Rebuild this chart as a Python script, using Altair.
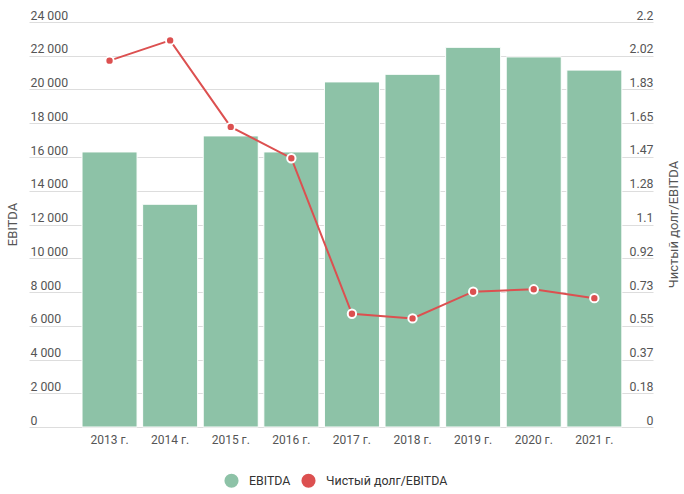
import altair as alt
import pandas as pd

years = ["2013 г.", "2014 г.", "2015 г.", "2016 г.", "2017 г.", "2018 г.", "2019 г.", "2020 г.", "2021 г."]
ebitda = [16300, 13200, 17250, 16300, 20450, 20900, 22500, 21930, 21150]
ratio = [1.99, 2.10, 1.63, 1.46, 0.615, 0.59, 0.735, 0.748, 0.70]
left_ticks = [0, 2000, 4000, 6000, 8000, 10000, 12000, 14000, 16000, 18000, 20000, 22000, 24000]
right_ticks = [0, 0.18333, 0.36667, 0.55, 0.73333, 0.91667, 1.1, 1.28333, 1.46667, 1.65, 1.83333, 2.01667, 2.2]
series = ["EBITDA", "Чистый долг/EBITDA"]
colors = ["#8dc2a7", "#dc5050"]

df = pd.DataFrame({
    "year": years,
    "ebitda": ebitda,
    "ratio": ratio,
    "s_bar": series[0],
    "s_line": series[1],
})

FONT = "Roboto"
GRAY = "#555555"

color_scale = alt.Scale(domain=series, range=colors)
legend = alt.Legend(
    orient="none", legendX=195, legendY=451, direction="horizontal",
    symbolType="circle", symbolSize=200, symbolStrokeWidth=0, symbolOpacity=1,
    labelFontSize=12.4, labelFont=FONT, labelColor="#333333", labelOffset=10,
    columnPadding=10, title=None, padding=0,
)

x_enc = alt.X(
    "year:N", sort=years,
    scale=alt.Scale(paddingInner=0.092, paddingOuter=0.6945, align=0.63),
    axis=alt.Axis(title=None, labelAngle=0, ticks=False, domain=False, labelPadding=7,
                  labelFontSize=12, labelFont=FONT, labelColor=GRAY, grid=False),
)

bars = alt.Chart(df).mark_bar(stroke="white", strokeWidth=1).encode(
    x=x_enc,
    y=alt.Y(
        "ebitda:Q",
        scale=alt.Scale(domain=[0, 24000], nice=False, zero=True),
        axis=alt.Axis(
            title="EBITDA", values=left_ticks,
            labelExpr="replace(format(datum.value, ','), ',', ' ')",
            labelAlign="left", labelBaseline="alphabetic", labelPadding=-1, labelOffset=-3,
            labelOverlap=False,
            ticks=False, tickSize=0, domain=False, grid=True, gridColor="#dddddd", gridWidth=1,
            labelColor=GRAY, labelFontSize=12.3, labelFont=FONT,
            titleFont=FONT, titleFontSize=13, titleFontWeight="normal", titleColor=GRAY,
            titleAngle=270, titleX=-17, titleY=202, titleAlign="center", titleBaseline="middle",
        ),
    ),
    color=alt.Color("s_bar:N", scale=color_scale, legend=legend, title=None),
)

right_axis = alt.Axis(
    orient="right", title="Чистый долг/EBITDA", values=right_ticks, format=".2~f",
    labelAlign="right", labelBaseline="alphabetic", labelPadding=0, labelOffset=-3,
    labelOverlap=False, labelBound=False,
    ticks=False, tickSize=0, domain=False, grid=False,
    labelColor=GRAY, labelFontSize=12.3, labelFont=FONT,
    titleFont=FONT, titleFontSize=13, titleFontWeight="normal", titleColor=GRAY,
    titleAngle=270, titleX=20, titleY=202, titleAlign="center", titleBaseline="middle",
)
right_scale = alt.Scale(domain=[0, 2.2], nice=False, zero=True)

line = alt.Chart(df).mark_line(strokeWidth=2).encode(
    x=alt.X("year:N", sort=years),
    y=alt.Y("ratio:Q", scale=right_scale, axis=right_axis),
    color=alt.Color("s_line:N", scale=color_scale, legend=legend, title=None),
)
points = alt.Chart(df).mark_point(filled=True, size=70, fill=colors[1], stroke="white",
                                  strokeWidth=2, opacity=1).encode(
    x=alt.X("year:N", sort=years),
    y=alt.Y("ratio:Q", scale=right_scale, axis=right_axis),
)

right_layer = alt.layer(line, points)

chart = alt.layer(bars, right_layer).resolve_scale(y="independent").properties(
    width=624, height=405,
    autosize=alt.AutoSizeParams(type="none"),
    padding={"left": 29, "top": 22, "right": 31, "bottom": 67},
    background="white",
).configure_view(stroke=None)

chart.save("out.html", embed_options={"renderer": "svg", "actions": False})
